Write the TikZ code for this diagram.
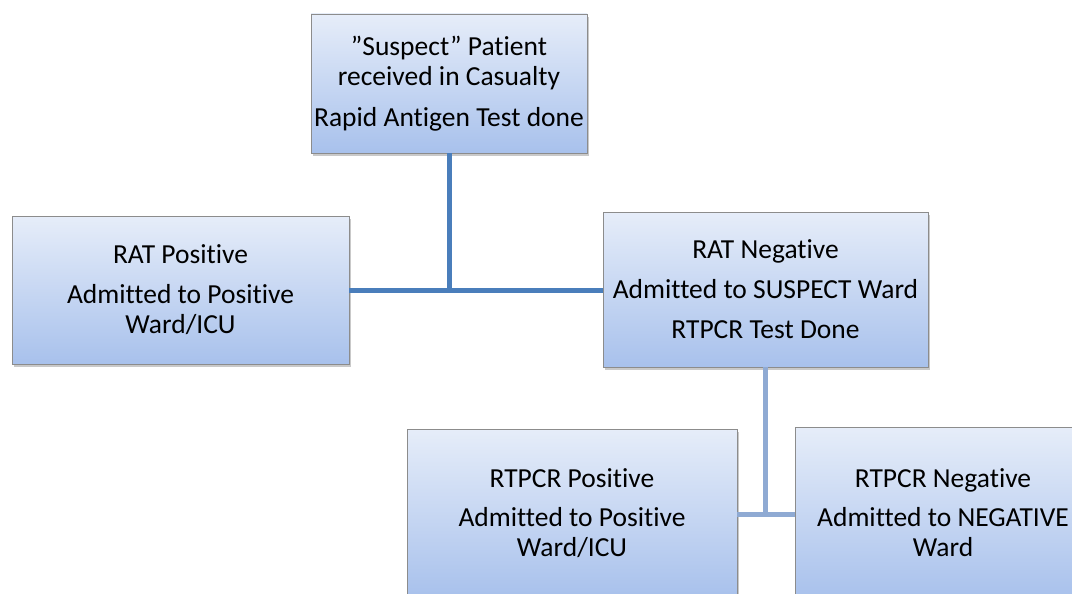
\documentclass[tikz,border=0pt]{standalone}
\usepackage{fontspec}
\setmainfont{Carlito}[Ligatures={ResetAll,NoCommon}]
\usetikzlibrary{shadows}
\definecolor{boxtop}{HTML}{E6EDF9}
\definecolor{boxbot}{HTML}{A8C1EC}
\definecolor{boxline}{HTML}{8C8C8C}
\definecolor{connA}{HTML}{4A7EBB}
\definecolor{connB}{HTML}{8FAAD3}
\tikzset{
  stagebox/.style={rectangle, draw=boxline, line width=0.8pt, top color=boxtop, bottom color=boxbot,
    drop shadow={shadow xshift=2pt, shadow yshift=-3pt, opacity=0.35, fill=black!60},
    align=center, inner sep=0pt, font=\fontsize{27.5}{30}\selectfont, text=black},
  connmain/.style={draw=connA, line width=5pt},
  connsub/.style={draw=connB, line width=5pt},
}
\begin{document}
\begin{tikzpicture}[x=1pt,y=-1pt]
\useasboundingbox (0,0) rectangle (1072,594);
\fill[white] (0,0) rectangle (1072,594);
\node[stagebox, minimum width=276pt, minimum height=139pt] (top) at (449,83.5)
  {"Suspect" Patient\\received in Casualty\\[11pt]Rapid Antigen Test done};
\node[stagebox, minimum width=337pt, minimum height=148pt] (left) at (180.5,290)
  {RAT Positive\\[10pt]Admitted to Positive\\Ward/ICU};
\node[stagebox, minimum width=325pt, minimum height=155pt] (mid) at (765.5,289.5)
  {RAT Negative\\[10pt]Admitted to SUSPECT Ward\\[10pt]RTPCR Test Done};
\node[stagebox, minimum width=330pt, minimum height=168pt] (bl) at (572,513)
  {RTPCR Positive\\[9pt]Admitted to Positive\\Ward/ICU};
\node[stagebox, minimum width=296pt, minimum height=172pt] (br) at (943,513)
  {RTPCR Negative\\[9pt]Admitted to NEGATIVE\\Ward};
\coordinate (j1) at (449,290);
\coordinate (j2) at (765.5,514);
\draw[connmain] (top.south) -- ([yshift=2.5pt]j1);
\draw[connmain] (left.east) -- (left.east -| mid.west);
\draw[connsub] (mid.south) -- ([yshift=2.5pt]j2);
\draw[connsub] (bl.east |- j2) -- (br.west |- j2);
\end{tikzpicture}
\end{document}
